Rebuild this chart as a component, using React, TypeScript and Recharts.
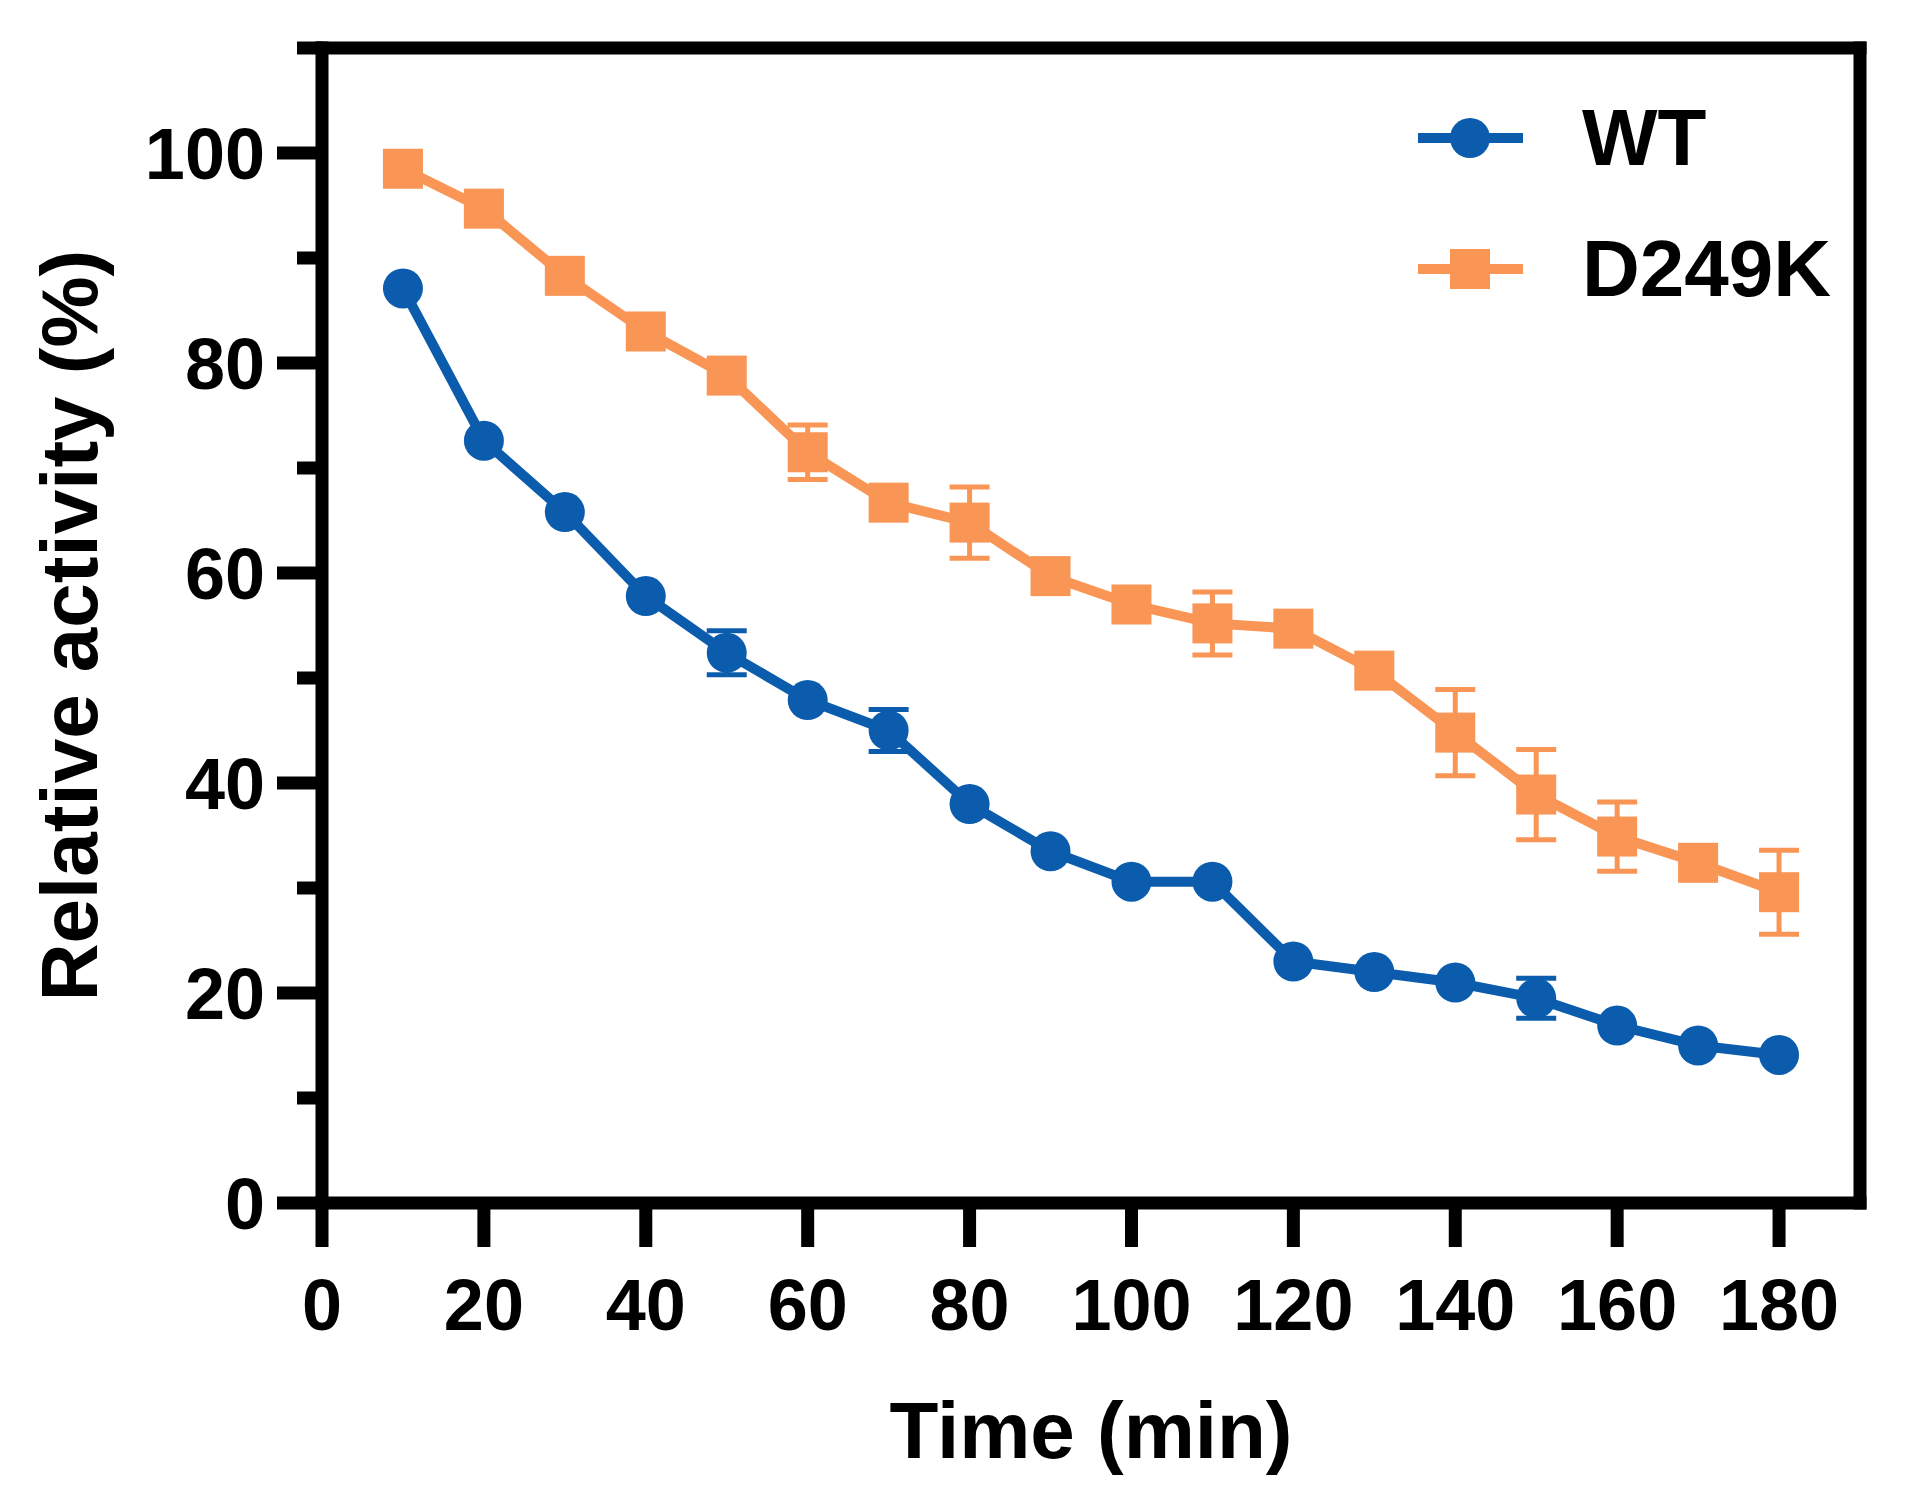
import React from 'react';
import { LineChart, Line, XAxis, YAxis, ErrorBar, Legend } from 'recharts';

const times = [10, 20, 30, 40, 50, 60, 70, 80, 90, 100, 110, 120, 130, 140, 150, 160, 170, 180];
const wtValues = [87.1, 72.6, 65.8, 57.8, 52.4, 47.9, 45.0, 38.0, 33.5, 30.6, 30.6, 23.0, 22.0, 21.0, 19.5, 16.9, 15.0, 14.1];
const wtErrors = [null, null, null, null, 2.1, null, 2.0, null, null, null, null, null, null, null, 1.9, null, null, null];
const d249kValues = [98.5, 94.7, 88.3, 83.0, 78.8, 71.5, 66.7, 64.8, 59.7, 57.0, 55.2, 54.7, 50.7, 44.8, 38.9, 34.9, 32.4, 29.6];
const d249kErrors = [null, null, null, null, null, 2.6, null, 3.4, null, null, 3.0, null, null, 4.1, 4.3, 3.3, null, 4.0];

const xTicks = [0, 20, 40, 60, 80, 100, 120, 140, 160, 180];
const yTicks = [0, 10, 20, 30, 40, 50, 60, 70, 80, 90, 100, 110];
const seriesNames = ['WT', 'D249K'];
const seriesColors = ['#0B5CAD', '#F99555'];
const seriesShapes = ['circle', 'square'];
const xTitle = 'Time (min)';
const yTitle = 'Relative activity (%)';

const data = times.map((t, i) => ({
  time: t,
  wt: wtValues[i],
  wtErr: wtErrors[i],
  d249k: d249kValues[i],
  d249kErr: d249kErrors[i],
}));

const FONT = "'Liberation Sans', Arial, Helvetica, sans-serif";
const AXIS_W = 13;

const YTick = (props: any) => {
  const { x, y, payload } = props;
  const v = payload.value;
  const major = v % 20 === 0;
  return (
    <g>
      <line x1={x - (major ? 45 : 25)} x2={x} y1={y} y2={y} stroke="#000" strokeWidth={AXIS_W} />
      {major && (
        <text x={x - 57} y={y + 26} textAnchor="end" fontFamily={FONT} fontWeight="bold" fontSize={72} fill="#000">
          {v}
        </text>
      )}
    </g>
  );
};

const XTick = (props: any) => {
  const { x, y, payload } = props;
  return (
    <g>
      <line x1={x} x2={x} y1={y} y2={y + 44} stroke="#000" strokeWidth={AXIS_W} />
      <text x={x} y={y + 127} textAnchor="middle" fontFamily={FONT} fontWeight="bold" fontSize={72} fill="#000">
        {payload.value}
      </text>
    </g>
  );
};

const YTitle = (props: any) => {
  const vb = props.viewBox || { x: 0, y: 40, width: 314, height: 1155 };
  const x = vb.x + 89;
  const y = vb.y + vb.height / 2;
  return (
    <text x={x} y={y} transform={`rotate(-90 ${x} ${y})`} textAnchor="middle" fontFamily={FONT} fontWeight="bold" fontSize={80} fill="#000">
      {yTitle}
    </text>
  );
};

const XTitle = (props: any) => {
  const vb = props.viewBox || { x: 314, y: 1195, width: 1538, height: 294 };
  return (
    <text x={vb.x + vb.width / 2} y={vb.y + 255} textAnchor="middle" fontFamily={FONT} fontWeight="bold" fontSize={80} fill="#000">
      {xTitle}
    </text>
  );
};

const LegendContent = (props: any) => {
  const payload = props.payload || [];
  return (
    <div style={{ display: 'flex', flexDirection: 'column' }}>
      {payload.map((entry: any, i: number) => {
        const color = seriesColors[i];
        const shape = seriesShapes[i];
        return (
          <div key={i} style={{ display: 'flex', alignItems: 'center', height: 131 }}>
            <svg width={105} height={60} style={{ display: 'block' }}>
              <line x1={0} x2={105} y1={30} y2={30} stroke={color} strokeWidth={10} />
              {shape === 'circle' ? (
                <circle cx={52} cy={30} r={20} fill={color} />
              ) : (
                <rect x={32} y={10} width={40} height={40} fill={color} />
              )}
            </svg>
            <span
              style={{
                marginLeft: 59,
                fontFamily: FONT,
                fontWeight: 'bold',
                fontSize: 80,
                lineHeight: 1,
                color: '#000',
                whiteSpace: 'nowrap',
              }}
            >
              {seriesNames[i] ?? entry.value}
            </span>
          </div>
        );
      })}
    </div>
  );
};

const SquareDot = (props: any) => {
  const { cx, cy, index } = props;
  if (cx == null || cy == null) return null;
  return <rect key={`sq-${index}`} x={cx - 20} y={cy - 20} width={40} height={40} fill={seriesColors[1]} />;
};

export default function App() {
  const frameLine = { stroke: '#000', strokeWidth: AXIS_W, strokeLinecap: 'square' as const };
  return (
    <div style={{ width: 1892, height: 1489 }}>
      <LineChart width={1892} height={1489} data={data} margin={{ top: 30, right: 30, bottom: 0, left: 0 }}>
        <XAxis
          dataKey="time"
          type="number"
          domain={[0, 190]}
          ticks={xTicks}
          interval={0}
          tickSize={0}
          tickMargin={0}
          tickLine={false}
          tick={<XTick />}
          height={294}
          axisLine={frameLine}
          allowDataOverflow
          label={XTitle}
        />
        <XAxis
          xAxisId="top"
          orientation="top"
          type="number"
          domain={[0, 190]}
          height={10}
          tick={false}
          tickLine={false}
          axisLine={frameLine}
          allowDataOverflow
        />
        <YAxis
          type="number"
          domain={[0, 110]}
          ticks={yTicks}
          interval={0}
          tickSize={0}
          tickMargin={0}
          tickLine={false}
          tick={<YTick />}
          width={314}
          axisLine={frameLine}
          allowDataOverflow
          label={YTitle}
        />
        <YAxis
          yAxisId="right"
          orientation="right"
          type="number"
          domain={[0, 110]}
          width={10}
          tick={false}
          tickLine={false}
          axisLine={frameLine}
          allowDataOverflow
        />
        <Legend
          layout="vertical"
          align="center"
          verticalAlign="middle"
          wrapperStyle={{ left: 1410, top: 64, width: 'auto' }}
          content={LegendContent}
        />
        <Line
          name={seriesNames[0]}
          dataKey="wt"
          type="linear"
          stroke={seriesColors[0]}
          strokeWidth={10}
          dot={{ r: 20, fill: seriesColors[0], stroke: 'none' }}
          activeDot={false}
          isAnimationActive={false}
        >
          <ErrorBar dataKey="wtErr" direction="y" width={20} strokeWidth={5} stroke={seriesColors[0]} isAnimationActive={false} />
        </Line>
        <Line
          name={seriesNames[1]}
          dataKey="d249k"
          type="linear"
          stroke={seriesColors[1]}
          strokeWidth={10}
          dot={<SquareDot />}
          activeDot={false}
          isAnimationActive={false}
        >
          <ErrorBar dataKey="d249kErr" direction="y" width={20} strokeWidth={5} stroke={seriesColors[1]} isAnimationActive={false} />
        </Line>
      </LineChart>
    </div>
  );
}
